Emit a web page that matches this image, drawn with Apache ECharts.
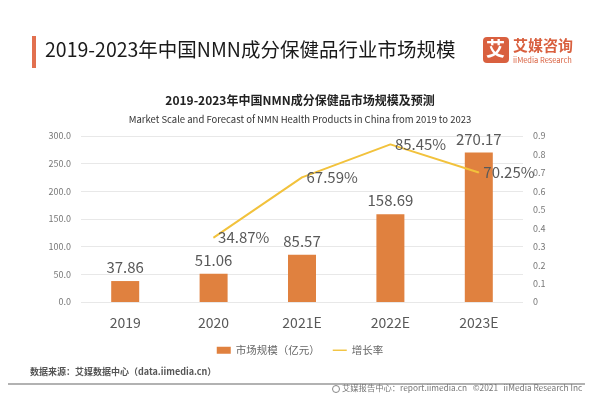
<!DOCTYPE html>
<html>
<head>
<meta charset="utf-8">
<script src="https://cdn.jsdelivr.net/npm/echarts@6/dist/echarts.min.js"></script>
<style>
  html, body { margin: 0; padding: 0; background: #fff; }
  #chart { width: 600px; height: 396px; }
</style>
</head>
<body>
<div id="chart"></div>
<script>
// 年份
const years = ['2019', '2020', '2021E', '2022E', '2023E'];
// 市场规模（亿元）
const marketSize = [37.86, 51.06, 85.57, 158.69, 270.17];
// 增长率，2019 没有
const growthRate = [null, 0.3487, 0.6759, 0.8545, 0.7025];

const FONT = '"Noto Sans CJK SC", "Noto Sans", sans-serif';
const barColor = '#E0813F';
const lineColor = '#F2C23C';
const textColor = '#595959';

let chart = echarts.init(document.getElementById('chart'));
let option = {
  backgroundColor: '#fff',
  textStyle: { fontFamily: FONT },
  title: [
    {   // 图内标题
      text: '2019-2023年中国NMN成分保健品市场规模及预测',
      left: 'center',
      top: 89,
      textStyle: { fontSize: 12, fontWeight: 'bold', color: '#222', fontFamily: FONT }
    },
    {
      text: 'Market Scale and Forecast of NMN Health Products in China from 2019 to 2023',
      left: 'center',
      top: 110,
      textStyle: { fontSize: 9.5, fontWeight: 'normal', color: '#333', fontFamily: FONT }
    }
  ],
  graphic: [
    // 左侧橙色竖条 + 大标题
    { type: 'rect', left: 32, top: 36, shape: { width: 4, height: 32 }, style: { fill: '#E2704F' } },
    { type: 'text', left: 45, top: 40, style: { text: '2019-2023年中国NMN成分保健品行业市场规模', fontSize: 19.5, fill: '#1a1a1a', fontFamily: FONT } },
    // logo
    { type: 'rect', left: 483, top: 37, shape: { width: 26, height: 26, r: 4 }, style: { fill: '#D9603F' } },
    { type: 'text', left: 486, top: 39, style: { text: '艾', fontSize: 19, fontWeight: 'bold', fill: '#fff', fontFamily: FONT } },
    { type: 'text', left: 513, top: 38, style: { text: '艾媒咨询', fontSize: 15, fontWeight: 'bold', fill: '#D9603F', fontFamily: FONT } },
    { type: 'text', left: 513, top: 56, style: { text: 'iiMedia Research', fontSize: 7.5, fill: '#D9603F', fontFamily: FONT } },
    // 数据来源
    { type: 'text', left: 30, top: 367, style: { text: '数据来源：艾媒数据中心（data.iimedia.cn）', fontSize: 9, fontWeight: 'bold', fill: '#555', fontFamily: FONT } },
    { type: 'line', shape: { x1: 8, y1: 384, x2: 585, y2: 384 }, style: { stroke: '#999', lineWidth: 1.5 } },
    // 页脚
    { type: 'circle', shape: { cx: 336, cy: 389, r: 3.5 }, style: { fill: 'none', stroke: '#888', lineWidth: 1 } },
    { type: 'text', left: 342, top: 384, style: { text: '艾媒报告中心：report.iimedia.cn   ©2021   iiMedia Research Inc', fontSize: 8.3, fill: '#777', fontFamily: FONT } }
  ],
  legend: {
    top: 340,
    left: 'center',
    itemWidth: 14,
    itemHeight: 7,
    itemGap: 13,
    textStyle: { fontSize: 10.5, color: '#666', fontFamily: FONT },
    data: [
      { name: '市场规模（亿元）', icon: 'rect' },
      { name: '增长率', icon: 'path://M0 0H20V2H0Z' }
    ]
  },
  grid: {   //整体图形的位置
    left: 81,
    right: 77,
    top: 136,
    bottom: 94
  },
  xAxis: {
    type: 'category',
    data: years,
    axisLine: { show: false },
    axisTick: { show: false },
    axisLabel: { fontSize: 14, color: textColor, margin: 14, fontFamily: FONT }
  },
  yAxis: [
    {
      type: 'value',
      min: 0,
      max: 300,
      interval: 50,
      axisLine: { show: false },
      axisTick: { show: false },
      axisLabel: { fontSize: 9, color: '#777', margin: 10, formatter: v => v.toFixed(1) },
      splitLine: { lineStyle: { color: '#E8E8E8' } }
    },
    {
      type: 'value',
      min: 0,
      max: 0.9,
      interval: 0.1,
      axisLine: { show: false },
      axisTick: { show: false },
      axisLabel: { fontSize: 9, color: '#777', margin: 10, formatter: v => v === 0 ? '0' : v.toFixed(1) },
      splitLine: { show: false }
    }
  ],
  series: [
    {
      name: '市场规模（亿元）',
      type: 'bar',
      data: marketSize,
      barWidth: 28,
      itemStyle: { color: barColor },
      label: {
        show: true,
        position: 'top',
        distance: 6,
        fontSize: 15,
        color: textColor,
        fontFamily: FONT,
        formatter: p => p.value.toFixed(2)
      }
    },
    {
      name: '增长率',
      type: 'line',
      yAxisIndex: 1,
      data: growthRate,
      symbol: 'circle',
      symbolSize: 1,
      itemStyle: { color: lineColor },
      lineStyle: { color: lineColor, width: 2 },
      label: {
        show: true,
        position: 'right',
        distance: 4,
        fontSize: 15,
        color: textColor,
        fontFamily: FONT,
        formatter: p => (p.value * 100).toFixed(2) + '%'
      }
    }
  ]
};
chart.setOption(option);
</script>
</body>
</html>
